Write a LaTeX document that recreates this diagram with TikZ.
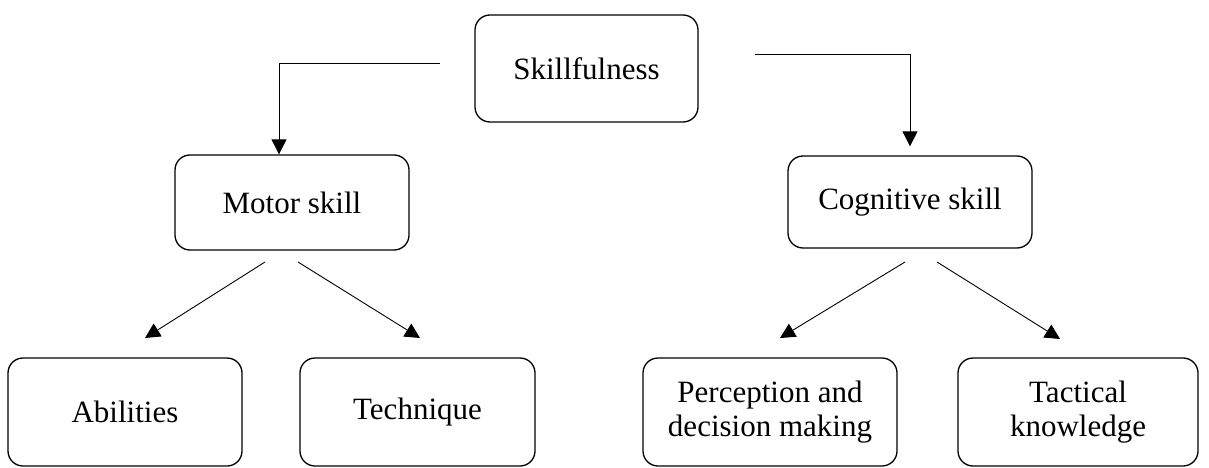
\documentclass[tikz,border=0pt]{standalone}
\usepackage{fontspec}
\setmainfont{Liberation Serif}
\usetikzlibrary{arrows.meta}
\tikzset{
  box/.style={draw, line width=1.3pt, rounded corners=15pt, align=center,
    inner sep=0pt, font=\fontsize{31}{34}\selectfont},
  arr/.style={-{Triangle[length=15pt,width=15pt]}, line width=0.9pt}
}
\begin{document}
\begin{tikzpicture}[x=1pt,y=-1pt]
      \useasboundingbox (0,0) rectangle (1209,468);
      \draw
        (586.5,68.5) node[box, minimum width=223pt, minimum height=107pt] (skill){Skillfulness}
        (292,202.5) node[box, minimum width=234pt, minimum height=95pt] (motor){Motor skill}
        (910,202) node[box, minimum width=244pt, minimum height=92pt] (cog){Cognitive skill}
        (125,412) node[box, minimum width=234pt, minimum height=108pt] (abil){Abilities}
        (417.5,412) node[box, minimum width=235pt, minimum height=108pt] (tech){Technique}
        (770,412) node[box, minimum width=254pt, minimum height=108pt] (perc){Perception and\\decision making}
        (1078,412) node[box, minimum width=240pt, minimum height=108pt] (tact){Tactical\\knowledge};
      \coordinate (skl) at (440,63);
      \coordinate (skr) at (755,54);
      \coordinate (ma) at (265,262);
      \coordinate (mb) at (298,262);
      \coordinate (ca) at (905,262);
      \coordinate (cb) at (937,262);
      \coordinate (abil-in) at (145,338);
      \coordinate (tech-in) at (420,338);
      \coordinate (perc-in) at (780,338);
      \coordinate (tact-in) at (1060,339);
      \begin{scope}[arr]
        \draw (skl) -| ([xshift=-13pt]motor.north);
        \draw (skr) -| ([yshift=9pt]cog.north);
        \draw (ma) to (abil-in);
        \draw (mb) to (tech-in);
        \draw (ca) to (perc-in);
        \draw (cb) to (tact-in);
      \end{scope}
    \end{tikzpicture}
\end{document}
